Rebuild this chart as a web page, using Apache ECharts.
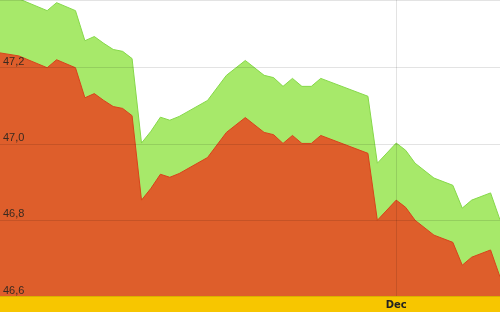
<!DOCTYPE html>
<html>
<head>
<meta charset="utf-8">
<script src="https://cdn.jsdelivr.net/npm/echarts@6/dist/echarts.min.js"></script>
<style>html,body{margin:0;padding:0;background:#fff}#c{width:500px;height:312px}</style>
</head>
<body>
<div id="c"></div>
<script>
var dates = ['2011-10-20','2011-10-22','2011-10-25','2011-10-26','2011-10-28','2011-10-29','2011-10-30','2011-10-31','2011-11-01','2011-11-02','2011-11-03','2011-11-04','2011-11-05','2011-11-06','2011-11-07','2011-11-08','2011-11-11','2011-11-13','2011-11-15','2011-11-17','2011-11-18','2011-11-19','2011-11-20','2011-11-21','2011-11-22','2011-11-23','2011-11-28','2011-11-29','2011-12-01','2011-12-02','2011-12-03','2011-12-05','2011-12-07','2011-12-08','2011-12-09','2011-12-11','2011-12-12'];
var lowValues = [47.239,47.231,47.200,47.221,47.200,47.121,47.132,47.114,47.098,47.093,47.074,46.852,46.883,46.920,46.912,46.922,46.964,47.030,47.069,47.030,47.024,47.001,47.022,47.001,47.001,47.022,46.975,46.799,46.852,46.833,46.799,46.760,46.741,46.681,46.702,46.721,46.650];
var highValues = [47.389,47.381,47.350,47.371,47.350,47.271,47.282,47.264,47.248,47.243,47.224,47.002,47.033,47.070,47.062,47.072,47.114,47.180,47.219,47.180,47.174,47.151,47.172,47.151,47.151,47.172,47.125,46.949,47.002,46.983,46.949,46.910,46.891,46.831,46.852,46.871,46.800];
var yTicks = [46.6, 46.8, 47.0, 47.2];
var monthLabel = 'Dec';
var monthDate = '2011-12-01';
var xStart = '2011-10-20';
var xEnd = '2011-12-12';

function ts(d){ return echarts.time.parse(d).getTime(); }
function pairs(vals){ return dates.map(function(d,i){ return [ts(d), vals[i]]; }); }
var monthTs = ts(monthDate);

var chart = echarts.init(document.getElementById('c'), null, {renderer:'canvas'});
chart.setOption({
  animation: false,
  backgroundColor: '#fff',
  grid: {left: 0, right: 0, top: -1, bottom: 16, containLabel: false},
  graphic: [{
    type: 'rect', left: 0, bottom: 0, z: 1,
    shape: {width: 500, height: 16},
    style: {fill: '#F7C600'}
  },{
    type: 'rect', left: 0, bottom: 16, z: 1,
    shape: {width: 500, height: 1},
    style: {fill: '#EDBB3A'}
  }],
  xAxis: {
    type: 'value', min: ts(xStart), max: ts(xEnd), z: 10,
    axisLine: {show: false}, axisTick: {show: false}, splitLine: {show: false},
    axisLabel: {
      customValues: [monthTs],
      formatter: function(){ return monthLabel; },
      margin: 4, fontSize: 10, fontWeight: 'bold', color: '#222',
      fontFamily: 'DejaVu Sans'
    }
  },
  yAxis: {
    type: 'value', min: yTicks[0], max: 47.378, interval: 0.2, z: 10,
    axisLine: {show: false}, axisTick: {show: false},
    splitLine: {show: true, lineStyle: {color: 'rgba(0,0,0,0.11)', width: 1}},
    axisLabel: {
      inside: true, margin: 3, verticalAlign: 'bottom', showMaxLabel: false,
      fontSize: 11, color: '#3a2a20', fontFamily: 'Liberation Sans',
      formatter: function(v){ return v.toFixed(1).replace('.', ','); }
    }
  },
  series: [{
    type: 'line', data: pairs(highValues), symbol: 'none',
    lineStyle: {color: '#86D84A', width: 1},
    areaStyle: {color: '#A7E96A', opacity: 1, origin: 'start'}
  },{
    type: 'line', data: pairs(lowValues), symbol: 'none',
    lineStyle: {color: '#D8431C', width: 1},
    areaStyle: {color: '#DE5E2B', opacity: 1, origin: 'start'},
    markLine: {
      silent: true, symbol: 'none', label: {show: false},
      lineStyle: {color: 'rgba(0,0,0,0.11)', type: 'solid', width: 1},
      data: [{xAxis: monthTs}]
    }
  }]
});
</script>
</body>
</html>
